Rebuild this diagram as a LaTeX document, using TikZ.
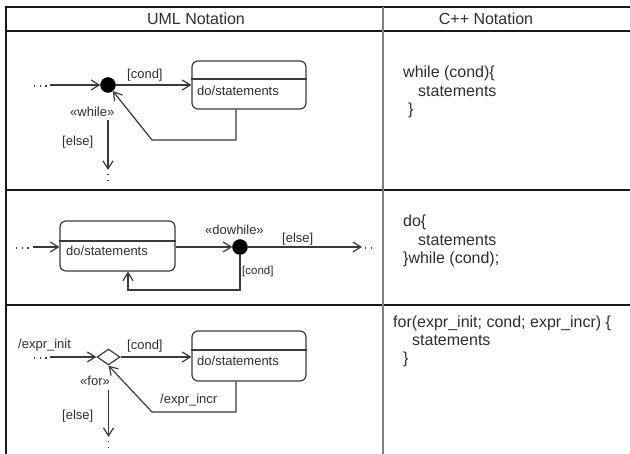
\documentclass[tikz,border=0pt]{standalone}
\usepackage{fontspec}
\setmainfont{Liberation Sans}
\usetikzlibrary{arrows.meta,shapes.geometric}
\definecolor{linec}{HTML}{3A3A3A}
\definecolor{txt}{HTML}{2E2E2E}
\definecolor{rule}{HTML}{1A1A1A}
\definecolor{vrule}{HTML}{808080}

\begin{document}
\begin{tikzpicture}[x=1pt,y=-1pt,
  flow/.style={draw=linec, line width=1.2pt,
    -{Straight Barb[length=8pt,width=10pt]}},
  plain/.style={draw=linec, line width=1.2pt},
  trail/.style={draw=linec, line width=1.1pt, dash pattern=on 1.1pt off 4.6pt},
  statebox/.style={draw=linec, line width=1.2pt, rounded corners=6pt,
    minimum width=114pt, inner sep=0pt},
  junction/.style={circle, fill=black, draw=black, inner sep=0pt,
    minimum size=15pt},
  choice/.style={diamond, draw=linec, line width=1.2pt, fill=white,
    inner sep=0pt, minimum width=23pt, minimum height=16pt},
  lbl/.style={font=\fontsize{13}{15}\selectfont, text=txt, inner sep=0pt,
    anchor=base west},
  small/.style={font=\fontsize{11.5}{14}\selectfont, text=txt,
    inner sep=0pt, anchor=base west},
  code/.style={font=\fontsize{16}{19}\selectfont, text=txt,
    inner sep=0pt, anchor=base west},
  head/.style={font=\fontsize{16}{19}\selectfont, text=txt,
    inner sep=0pt, anchor=base},
]
\useasboundingbox (0,0) rectangle (630,454);

% ---------- table frame ----------
\draw[rule, line width=2pt] (6,7) -- (630,7);
\draw[rule, line width=2pt] (6,6) -- (6,454);
\draw[rule, line width=1.8pt] (6,31) -- (630,31);
\draw[rule, line width=1.6pt] (6,190) -- (630,190);
\draw[rule, line width=1.6pt] (6,305) -- (630,305);
\draw[vrule, line width=2.4pt] (383,7) -- (383,454);

\node[head] (h1) at (196,25) {UML Notation};
\node[head] (h2) at (486,25) {C++ Notation};

% ---------- while loop ----------
\node[junction] (d1) at (108,85) {};
\node[statebox, minimum height=48pt] (b1) at (249,85) {};
\draw[plain] (b1.west |- 0,79) -- (b1.east |- 0,79);
\node[lbl] (t1) at (197,96) {do/statements};
\coordinate (s1a) at (34,86);
\coordinate (s1b) at (50,86);
\coordinate (s1c) at (50,85);
\draw[trail] (s1a) -- (s1b);
\draw[flow] (s1c) -- (d1);
\draw[flow] (d1) -- (b1.west |- d1);
\node[lbl] (c1) at (127,79) {[cond]};
\coordinate (l1a) at (236,140);
\coordinate (l1b) at (152,140);
\draw[flow] (b1.south -| l1a) -- (l1a) -- (l1b) -- (d1);
\node[lbl] (w1) at (70,117) {«while»};
\coordinate (e1) at (108,170);
\coordinate (f1a) at (108,174);
\coordinate (f1b) at (108,184);
\draw[flow] (d1 |- 0,120) -- (e1);
\draw[trail] (f1a) -- (f1b);
\node[lbl] (x1) at (62,146) {[else]};

% ---------- do-while loop ----------
\node[statebox, minimum width=115pt, minimum height=50pt] (b2) at (117.5,246) {};
\draw[plain] (b2.west |- 0,241) -- (b2.east |- 0,241);
\node[lbl] (t2) at (66,256) {do/statements};
\node[junction] (d2) at (240,247) {};
\coordinate (s2a) at (16,248);
\coordinate (s2b) at (32,248);
\coordinate (s2c) at (33,247);
\draw[trail] (s2a) -- (s2b);
\draw[flow] (s2c) -- (b2.west |- s2c);
\draw[flow] (b2.east |- d2) -- (d2);
\coordinate (e2) at (362,247);
\coordinate (f2a) at (365,248);
\coordinate (f2b) at (375,248);
\draw[flow] (d2) -- (e2);
\draw[trail] (f2a) -- (f2b);
\coordinate (l2a) at (240,290);
\coordinate (l2b) at (128,290);
\draw[flow] (d2) -- (l2a) -- (l2b) -- (b2.south -| l2b);
\node[lbl] (w2) at (205,235) {«dowhile»};
\node[lbl] (x2) at (282,243) {[else]};
\node[small] (c2) at (242,275) {[cond]};

% ---------- for loop ----------
\node[choice] (d3) at (108.5,357) {};
\node[statebox, minimum height=50pt] (b3) at (249,356) {};
\draw[plain] (b3.west |- 0,350) -- (b3.east |- 0,350);
\node[lbl] (t3) at (197,366) {do/statements};
\node[lbl] (i3) at (18,349) {/expr\_init};
\coordinate (s3a) at (34,358);
\coordinate (s3b) at (50,358);
\coordinate (s3c) at (50,357);
\draw[trail] (s3a) -- (s3b);
\draw[flow] (s3c) -- (d3);
\draw[flow] (d3) -- (b3.west |- d3);
\node[lbl] (c3) at (127,350) {[cond]};
\coordinate (l3a) at (236,412);
\coordinate (l3b) at (152,412);
\draw[flow] (b3.south -| l3a) -- (l3a) -- (l3b) -- (d3.south);
\node[lbl] (n3) at (160,404) {/expr\_incr};
\node[lbl] (w3) at (80,386) {«for»};
\coordinate (e3) at (108.5,437);
\coordinate (f3a) at (108.5,441);
\coordinate (f3b) at (108.5,451);
\draw[flow] (d3 |- 0,390) -- (e3);
\draw[trail] (f3a) -- (f3b);
\node[lbl] (x3) at (62,420) {[else]};

% ---------- C++ column ----------
\node[code] (p1) at (403,78) {while (cond)\{};
\node[code] (p2) at (418,97) {statements};
\node[code] (p3) at (408,115) {\}};

\node[code] (q1) at (403,227) {do\{};
\node[code] (q2) at (418,246) {statements};
\node[code] (q3) at (403,264) {\}while (cond);};

\node[code] (r1) at (393,328) {for(expr\_init; cond; expr\_incr) \{};
\node[code] (r2) at (412,346) {statements};
\node[code] (r3) at (403,364) {\}};
\end{tikzpicture}
\end{document}
